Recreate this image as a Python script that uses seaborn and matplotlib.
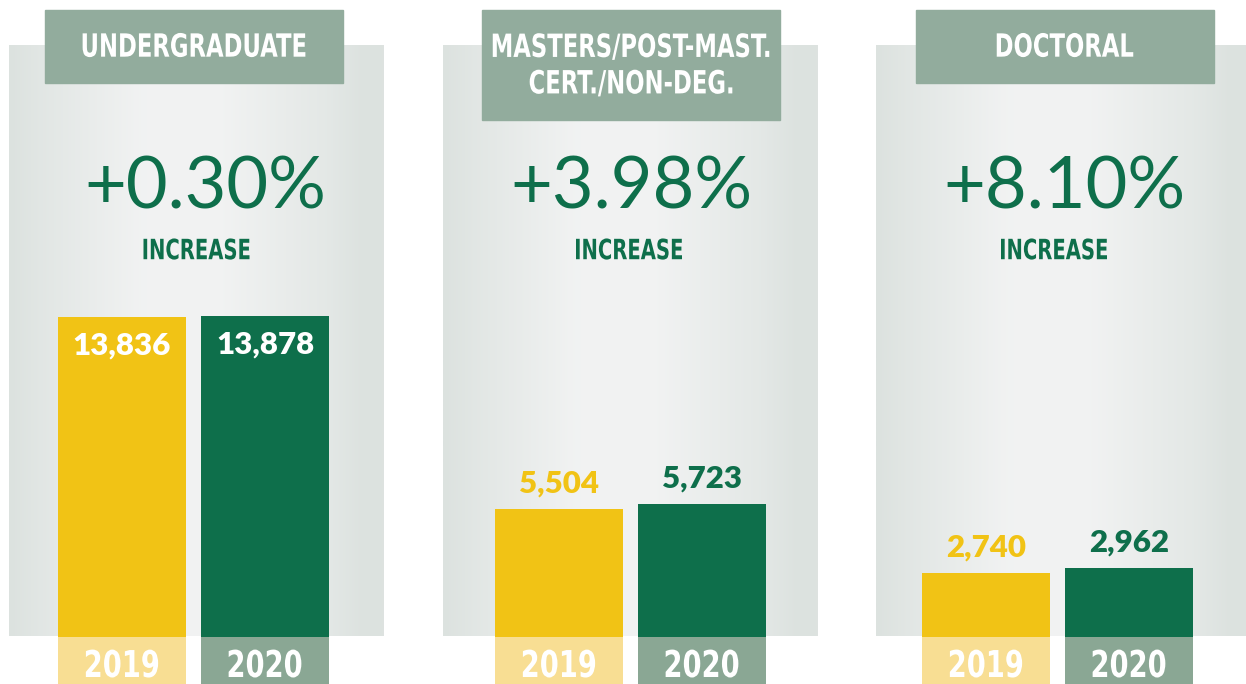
import numpy as np
import pandas as pd
import matplotlib
matplotlib.use('Agg')
import matplotlib.pyplot as plt
import seaborn as sns
from matplotlib import font_manager
from matplotlib.textpath import TextPath
from matplotlib.patches import PathPatch
from matplotlib.transforms import Affine2D

# enrollment by level, fall 2019 vs fall 2020
levels = ['UNDERGRADUATE', 'MASTERS/POST-MAST.\nCERT./NON-DEG.', 'DOCTORAL']
years = ['2019', '2020']
enroll_2019 = [13836, 5504, 2740]
enroll_2020 = [13878, 5723, 2962]
pct_change = ['+0.30%', '+3.98%', '+8.10%']

YELLOW = '#f1c315'
GREEN = '#0e6f4b'
YELLOW_BAND = '#f8de93'
GREEN_BAND = '#8aa794'
HEADER = '#92ac9d'

W, H = 1246, 684
K = 0.0231          # px per student
BASE = 636.5        # baseline, px from top
PANEL_W = 375
panel_left = [9, 443, 876]
pair_mid = [193.5, 630.5, 1057.5]   # centre of the two bars, px
header_left = [45, 482, 916]
pct_x = [205.5, 631, 1064]
inc_x = [196.5, 629, 1054]
BAR_STEP = 143      # px between bar centres

sns.set_theme(style='white')
plt.rcParams['font.family'] = ['Lato', 'DejaVu Sans']

# no condensed face installed, so squeeze a bold one instead
cond_fp = font_manager.FontProperties(family='DejaVu Sans', weight='bold')

fig = plt.figure(figsize=(W / 100, H / 100), dpi=100)
fig.patch.set_facecolor('white')


def cond_text(cx, cy, s, size_px, color, squeeze=0.72, gap=1.14):
    # centred squeezed text at pixel position (from top-left)
    lines = s.split('\n')
    n = len(lines)
    for k, line in enumerate(lines):
        tp = TextPath((0, 0), line, size=size_px, prop=cond_fp)
        ext = tp.get_extents()
        ly = cy + (k - (n - 1) / 2) * gap * size_px
        tr = (Affine2D().translate(-(ext.x0 + ext.x1) / 2, -size_px * 0.365)
              .scale(squeeze, 1).translate(cx, H - ly))
        fig.add_artist(PathPatch(tp, transform=tr, color=color, lw=0,
                                 zorder=10))


df = pd.DataFrame({
    'level': np.repeat(levels, 2),
    'year': years * 3,
    'students': [v for pair in zip(enroll_2019, enroll_2020) for v in pair],
})

# gradient for the panel backgrounds
grad_x = np.linspace(0, 1, 300)
grad_v = np.interp(grad_x, [0, 0.08, 0.35, 0.55, 0.85, 0.95, 1.0],
                   [0.0, 0.25, 0.95, 1.0, 0.35, 0.0, 0.05])
c_dark = np.array([0xdc, 0xe2, 0xdf]) / 255
c_light = np.array([0xf2, 0xf3, 0xf3]) / 255
grad = c_dark[None, :] + grad_v[:, None] * (c_light - c_dark)[None, :]
grad = grad[None, :, :]


def ypx(p):
    return (BASE - p) / K


for i, lvl in enumerate(levels):
    left = panel_left[i]
    x0 = 0.5 - (pair_mid[i] - left) / BAR_STEP
    x1 = x0 + PANEL_W / BAR_STEP

    def xpx(p):
        return x0 + (p - left) / BAR_STEP

    ax = fig.add_axes([left / W, 0, PANEL_W / W, 1])
    ax.imshow(grad, extent=[x0, x1, 0, ypx(46)], aspect='auto', zorder=0)

    sub = df[df['level'] == lvl]
    sns.barplot(data=sub, x='year', y='students', hue='year',
                palette=[YELLOW, GREEN], width=0.895, saturation=1,
                linewidth=0, legend=False, ax=ax, zorder=2)
    ax.set_xlim(x0, x1)
    ax.set_ylim(ypx(H), ypx(0))
    ax.axis('off')

    # year bands under the baseline
    ax.bar([0, 1], [ypx(H) - 0.5] * 2, width=0.895, linewidth=0,
           color=[YELLOW_BAND, GREEN_BAND], zorder=2)
    for j, yr in enumerate(years):
        cond_text(pair_mid[i] + (j - 0.5) * BAR_STEP, 663.5, yr, 37, 'white',
                  squeeze=0.74)

    # header box
    hb = 120 if '\n' in lvl else 83
    ax.add_patch(plt.Rectangle((xpx(header_left[i]), ypx(hb)),
                               298 / BAR_STEP, (hb - 10) / K,
                               color=HEADER, zorder=3, clip_on=False))
    cond_text(header_left[i] + 149, (10 + hb) / 2 - 1.5, lvl, 32, 'white',
              squeeze=0.71)

    ax.text(xpx(pct_x[i]), ypx(188), pct_change[i], ha='center',
            va='center', color=GREEN, fontsize=52, zorder=4)
    cond_text(inc_x[i], 249, 'INCREASE', 28, GREEN, squeeze=0.70)

    # value labels: inside tall bars, above short ones
    vals = sub['students'].tolist()
    for j, v in enumerate(vals):
        if v > 10000:
            ax.text(j, v - 29 / K, f'{v:,}', ha='center', va='center',
                    color='white', fontsize=22.5, fontweight='heavy', zorder=4)
        else:
            ax.text(j, v + 26 / K, f'{v:,}', ha='center', va='center',
                    color=[YELLOW, GREEN][j], fontsize=22.5,
                    fontweight='heavy', zorder=4)

fig.savefig('out.png', dpi=100, facecolor='white')
